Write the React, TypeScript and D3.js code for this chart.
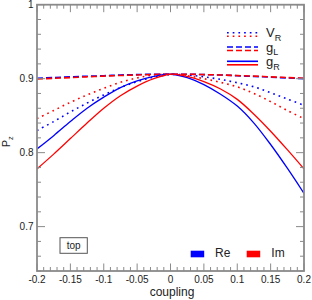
import * as d3 from 'd3'
import React from 'react'

// coupling grid and Pz values
const couplings = [
    -0.2, -0.175, -0.15, -0.125, -0.1, -0.075, -0.05, -0.025, 0, 0.025, 0.05, 0.075, 0.1, 0.125,
    0.15, 0.175, 0.2,
]
const vrRe = [
    0.83, 0.842, 0.855, 0.867, 0.878, 0.888, 0.896, 0.902, 0.9055, 0.905, 0.9025, 0.899, 0.8945,
    0.889, 0.881, 0.8725, 0.864,
]
const vrIm = [
    0.846, 0.857, 0.868, 0.878, 0.887, 0.895, 0.901, 0.905, 0.906, 0.904, 0.9, 0.895, 0.889, 0.88,
    0.869, 0.857, 0.846,
]
const glRe = [
    0.9005, 0.9015, 0.9025, 0.9033, 0.904, 0.905, 0.9055, 0.906, 0.906, 0.906, 0.9055, 0.905, 0.904,
    0.903, 0.902, 0.901, 0.9,
]
const glIm = [
    0.8995, 0.9005, 0.9015, 0.9025, 0.9035, 0.9043, 0.905, 0.9057, 0.906, 0.906, 0.9055, 0.905,
    0.9042, 0.9035, 0.9025, 0.9015, 0.9005,
]
const grRe = [
    0.805, 0.823, 0.842, 0.86, 0.875, 0.888, 0.897, 0.903, 0.906, 0.9015, 0.892, 0.879, 0.863, 0.84,
    0.811, 0.779, 0.745,
]
const grIm = [
    0.778, 0.798, 0.819, 0.84, 0.86, 0.877, 0.89, 0.9, 0.906, 0.903, 0.896, 0.886, 0.872, 0.852,
    0.829, 0.804, 0.778,
]

const xTicks = [-0.2, -0.15, -0.1, -0.05, 0, 0.05, 0.1, 0.15, 0.2]
const yTicks = [0.7, 0.8, 0.9, 1]
const legendKeys = ['V', 'g', 'g']
const legendSubs = ['R', 'L', 'R']
const partNames = ['Re', 'Im']

const BLUE = '#0000ff'
const RED = '#ff0000'
const AXIS = '#8a8a8a'
const FONT = 'Liberation Sans, Arial, sans-serif'

const styles = [
    { dash: '1.7,4', re: vrRe, im: vrIm },
    { dash: '6,3', re: glRe, im: glIm },
    { dash: null, re: grRe, im: grIm },
]

const App = (): JSX.Element => {
    const width = 312
    const height = 300
    const margin = { top: 4.7, right: 8, bottom: 29, left: 37 }

    const xScale = d3
        .scaleLinear()
        .domain([-0.2, 0.2])
        .range([margin.left, width - margin.right])
    const yScale = d3
        .scaleLinear()
        .domain([0.64, 1])
        .range([height - margin.bottom, margin.top])

    const line = d3
        .line<number>()
        .x((d, i) => xScale(couplings[i]))
        .y((d) => yScale(d))
        .curve(d3.curveCatmullRom)

    const x0 = xScale(-0.2)
    const x1 = xScale(0.2)
    const y0 = yScale(0.64)
    const y1 = yScale(1)

    // minor ticks every 0.01 on x, every 0.02 on y
    const xMinor = d3.range(-20, 21).map((i) => i / 100)
    const yMinor = d3.range(32, 51).map((i) => i / 50)

    return (
        <svg
            width={width}
            height={height}
            style={{ position: 'absolute', left: 0, top: 0, background: '#fff' }}
            fontFamily={FONT}
        >
            <defs>
                <clipPath id="plot-clip">
                    <rect x={x0} y={y1} width={x1 - x0} height={y0 - y1} />
                </clipPath>
            </defs>

            {/* curves */}
            <g clipPath="url(#plot-clip)" fill="none">
                {styles.map((s, i) => (
                    <g key={i} strokeDasharray={s.dash || undefined}>
                        <path d={line(s.re) || ''} stroke={BLUE} strokeWidth={s.dash ? 1.6 : 1.3} />
                        <path d={line(s.im) || ''} stroke={RED} strokeWidth={s.dash ? 1.6 : 1.3} />
                    </g>
                ))}
            </g>

            {/* ticks */}
            <g stroke={AXIS} strokeWidth={1}>
                {xMinor.map((t, i) => {
                    const major = i % 5 === 0
                    const len = major ? 7.5 : 4
                    const x = xScale(t)
                    return (
                        <g key={`x${i}`}>
                            <line x1={x} x2={x} y1={y0} y2={y0 - len} />
                            <line x1={x} x2={x} y1={y1} y2={y1 + len} />
                        </g>
                    )
                })}
                {yMinor.map((t, i) => {
                    const major = (i + 2) % 5 === 0
                    const len = major ? 8 : 4
                    const y = yScale(t)
                    return (
                        <g key={`y${i}`}>
                            <line x1={x0} x2={x0 + len} y1={y} y2={y} />
                            <line x1={x1} x2={x1 - len} y1={y} y2={y} />
                        </g>
                    )
                })}
            </g>

            {/* frame */}
            <rect
                x={x0}
                y={y1}
                width={x1 - x0}
                height={y0 - y1}
                fill="none"
                stroke={AXIS}
                strokeWidth={1.8}
            />

            {/* tick labels */}
            <g fontSize={10} fill="#222">
                {xTicks.map((t) => (
                    <text key={t} x={xScale(t)} y={282.5} textAnchor="middle">
                        {t}
                    </text>
                ))}
                {yTicks.map((t) => (
                    <text key={t} x={33.5} y={yScale(t) + 3.6} textAnchor="end">
                        {t}
                    </text>
                ))}
            </g>

            {/* axis titles */}
            <text x={172} y={296} fontSize={12} textAnchor="middle" fill="#222">
                coupling
            </text>
            <text transform="translate(9.5,147) rotate(-90)" fontSize={10.5} fill="#222">
                P
                <tspan fontSize={7.5} dy={3}>
                    z
                </tspan>
            </text>

            {/* line style legend */}
            {styles.map((s, i) => {
                const yb = 32.7 + i * 14.3
                return (
                    <g key={`leg${i}`} fill="none" strokeWidth={1.6} strokeDasharray={s.dash || undefined}>
                        <line x1={227} x2={258} y1={yb} y2={yb} stroke={BLUE} />
                        <line x1={227} x2={258} y1={yb + 3.5} y2={yb + 3.5} stroke={RED} />
                    </g>
                )
            })}
            {legendKeys.map((k, i) => (
                <text key={`lk${i}`} x={266} y={37 + i * 14.5} fontSize={13} fill="#222">
                    {k}
                    <tspan fontSize={9} dy={3.5}>
                        {legendSubs[i]}
                    </tspan>
                </text>
            ))}

            {/* Re / Im legend */}
            {partNames.map((p, i) => {
                const rx = 190.7 + i * 56
                return (
                    <g key={p}>
                        <rect x={rx} y={250.7} width={13.5} height={6.6} fill={i === 0 ? BLUE : RED} />
                        <text x={rx + 24.3 + i * 0.3} y={257.3} fontSize={12} fill="#222">
                            {p}
                        </text>
                    </g>
                )
            })}

            {/* label box */}
            <rect x={60} y={237.7} width={27.3} height={15.6} fill="none" stroke="#555" strokeWidth={1} />
            <text x={73.7} y={249} fontSize={10} textAnchor="middle" fill="#222">
                top
            </text>
        </svg>
    )
}

export default App
